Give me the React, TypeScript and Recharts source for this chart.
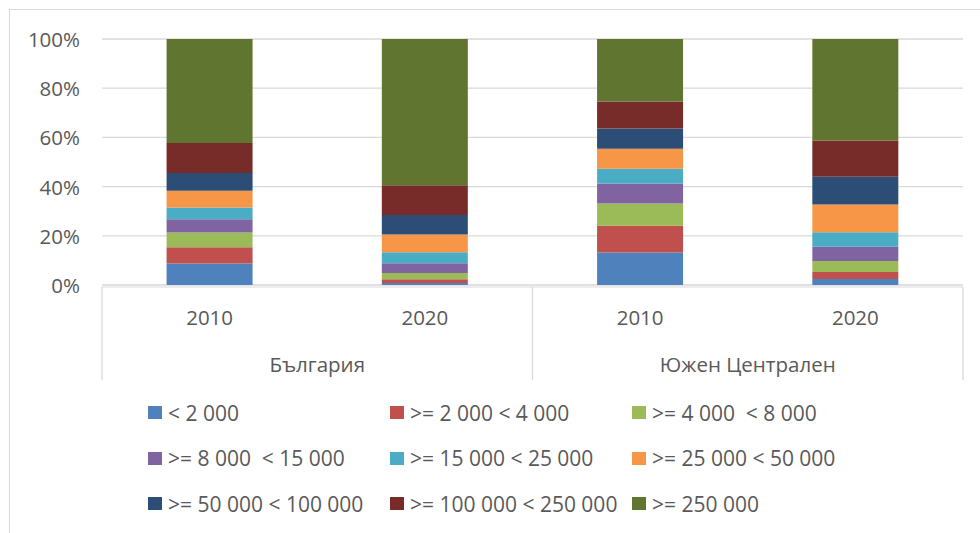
import React from "react";
import { BarChart, Bar, XAxis, YAxis, CartesianGrid, Legend } from "recharts";

const years = ["2010", "2020", "2010", "2020"];
const regions = ["България", "България", "Южен Централен", "Южен Централен"];
const positions = [0.5, 1.5, 2.5, 3.5];

const seriesLabels = [
  "< 2 000",
  ">= 2 000 < 4 000",
  ">= 4 000  < 8 000",
  ">= 8 000  < 15 000",
  ">= 15 000 < 25 000",
  ">= 25 000 < 50 000",
  ">= 50 000 < 100 000",
  ">= 100 000 < 250 000",
  ">= 250 000",
];
const seriesColors = [
  "#4F81BD",
  "#C0504D",
  "#9BBB59",
  "#8064A2",
  "#4BACC6",
  "#F79646",
  "#2C4D75",
  "#772C2A",
  "#5F7530",
];

const s1 = [8.7, 0.8, 13.2, 2.4];
const s2 = [6.6, 1.5, 10.9, 2.9];
const s3 = [6.0, 2.6, 9.0, 4.5];
const s4 = [5.4, 3.9, 8.2, 5.7];
const s5 = [4.8, 4.5, 6.0, 5.9];
const s6 = [6.8, 7.2, 8.1, 11.3];
const s7 = [7.2, 8.0, 8.2, 11.3];
const s8 = [12.2, 12.0, 11.0, 14.7];
const s9 = [42.3, 59.5, 25.4, 41.3];
const seriesValues = [s1, s2, s3, s4, s5, s6, s7, s8, s9];

const yTicks = [0, 0.2, 0.4, 0.6, 0.8, 1];
const groupBoundaries = [0, 2, 4];

const data = years.map((y, i) => {
  const row: any = { year: y, region: regions[i], pos: positions[i] };
  seriesValues.forEach((arr, k) => {
    row["s" + k] = arr[i];
  });
  return row;
});

const FONT = "'Open Sans', sans-serif";
const TEXT = "#595959";
const LINE = "#d9d9d9";

const EmptyTick = () => <g />;

const YTick = (props: any) => (
  <text
    x={80}
    y={props.y}
    textAnchor="end"
    dominantBaseline="central"
    fontFamily={FONT}
    fontSize={20.5}
    fill={TEXT}
  >
    {Math.round(props.payload.value * 100) + "%"}
  </text>
);

const YearTick = (props: any) => (
  <text
    x={props.x}
    y={317}
    textAnchor="middle"
    dominantBaseline="central"
    fontFamily={FONT}
    fontSize={20.5}
    fill={TEXT}
  >
    {props.payload.value}
  </text>
);

const RegionTick = (props: any) => (
  <text
    x={props.x}
    y={364}
    textAnchor="middle"
    dominantBaseline="central"
    fontFamily={FONT}
    fontSize={20.5}
    fill={TEXT}
  >
    {props.payload.value}
  </text>
);

const LegendContent = () => (
  <div
    style={{
      display: "grid",
      gridTemplateColumns: "242px 242px 242px",
      gridAutoRows: "45.5px",
      paddingLeft: 148,
      fontFamily: FONT,
      fontSize: 21,
      color: TEXT,
    }}
  >
    {seriesLabels.map((name, i) => (
      <div
        key={i}
        style={{ display: "flex", alignItems: "center", whiteSpace: "pre" }}
      >
        <span
          style={{
            display: "inline-block",
            width: 14,
            height: 13,
            background: seriesColors[i],
            marginRight: 6,
          }}
        />
        <span>{name}</span>
      </div>
    ))}
  </div>
);

export default function App() {
  return (
    <div
      style={{
        position: "absolute",
        left: 0,
        top: 0,
        width: 980,
        height: 533,
        overflow: "hidden",
        background: "#fff",
      }}
    >
      <div
        style={{
          position: "absolute",
          left: 9,
          top: 9,
          width: 1000,
          height: 600,
          border: "1px solid " + LINE,
        }}
      />
      <div style={{ position: "absolute", left: 0, top: 0 }}>
        <BarChart
          width={980}
          height={533}
          data={data}
          stackOffset="expand"
          barCategoryGap="30%"
          margin={{ top: 39, right: 17, bottom: 245, left: 0 }}
        >
          <CartesianGrid vertical={false} stroke={LINE} strokeWidth={1.3} />
          <XAxis
            xAxisId="sep"
            type="number"
            dataKey="pos"
            domain={[0, 4]}
            ticks={groupBoundaries}
            height={1}
            tick={<EmptyTick />}
            tickSize={93}
            tickLine={{ stroke: LINE, strokeWidth: 1.3 }}
            axisLine={{ stroke: LINE, strokeWidth: 1 }}
            interval={0}
          />
          <XAxis
            dataKey="year"
            height={1}
            axisLine={false}
            tickLine={false}
            tick={<YearTick />}
            interval={0}
          />
          <XAxis
            xAxisId="grp"
            dataKey="region"
            allowDuplicatedCategory={false}
            height={1}
            axisLine={false}
            tickLine={false}
            tick={<RegionTick />}
            interval={0}
          />
          <YAxis
            width={102}
            domain={[0, 1]}
            ticks={yTicks}
            axisLine={false}
            tickLine={false}
            tick={<YTick />}
          />
          <Legend
            layout="horizontal"
            verticalAlign="middle"
            align="center"
            wrapperStyle={{ top: 390, left: 0, width: 980 }}
            content={<LegendContent />}
          />
          {seriesLabels.map((name, k) => (
            <Bar
              key={k}
              dataKey={"s" + k}
              name={name}
              stackId="a"
              fill={seriesColors[k]}
              isAnimationActive={false}
            />
          ))}
        </BarChart>
      </div>
    </div>
  );
}
